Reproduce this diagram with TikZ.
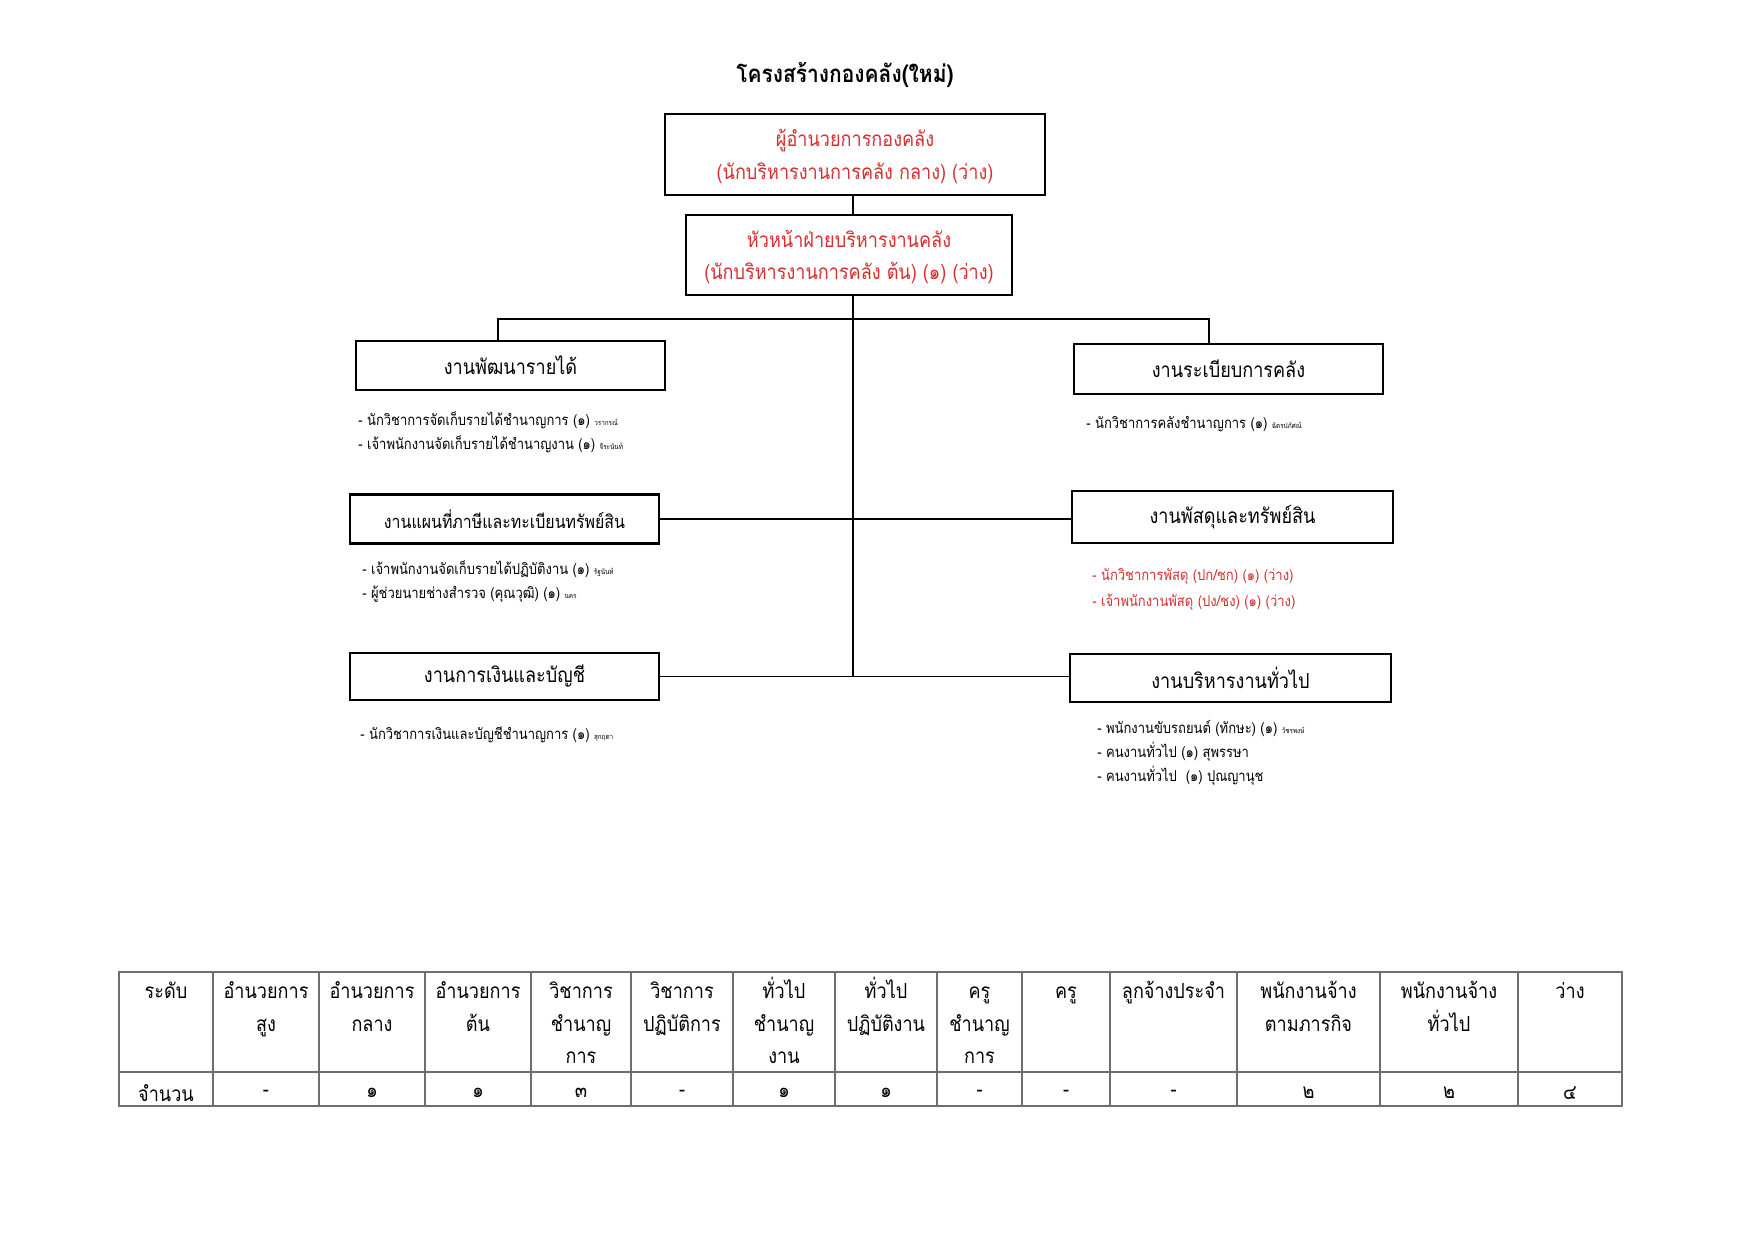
\documentclass[tikz,border=0pt]{standalone}
\usepackage{fontspec}
\setmainfont[Script=Thai,FakeStretch=0.87]{Loma}
\usepackage{xcolor}
\usepackage{tikz}
\usetikzlibrary{positioning,calc}
\definecolor{VacRed}{RGB}{214,46,46}
\definecolor{GridGray}{RGB}{110,110,110}
\newcommand{\nm}[1]{{\fontsize{3.5}{4.5}\selectfont #1}}
\tikzset{
  headbox/.style={draw=black,line width=1pt,minimum width=6.43cm,minimum height=1.37cm,
                  align=center,text=VacRed,font=\fontsize{10}{15.7}\selectfont,inner sep=0pt,
                  text depth=0pt},
  unitbox/.style={draw=black,line width=1pt,minimum width=5.23cm,minimum height=0.83cm,
                  font=\fontsize{10}{14}\selectfont,inner sep=0pt},
  staff/.style={anchor=west,font=\fontsize{7.2}{9}\selectfont,inner sep=0pt},
  link/.style={line width=0.8pt,black},
  cellhead/.style={anchor=north,align=center,font=\fontsize{10}{15.7}\selectfont,inner sep=0pt},
  cellnum/.style={font=\fontsize{10}{14}\selectfont,inner sep=0pt},
}

\begin{document}
\begin{tikzpicture}[x=0.016923cm,y=-0.016923cm]
  \useasboundingbox (0,0) rectangle (1755,1241);

  \node[font=\bfseries\fontsize{11.6}{15}\selectfont] (title) at (845,75) {โครงสร้างกองคลัง(ใหม่)};

  \node[headbox] (dir) at (855,154.5) {ผู้อำนวยการกองคลัง\\(นักบริหารงานการคลัง กลาง) (ว่าง)};
  \node[headbox,minimum width=5.52cm,minimum height=1.35cm] (head) at (849,255)
       {หัวหน้าฝ่ายบริหารงานคลัง\\(นักบริหารงานการคลัง ต้น) (๑) (ว่าง)};

  % units
  \node[unitbox] (rev) at (510.5,365.5) {งานพัฒนารายได้};
  \node[unitbox,minimum height=0.85cm] (reg) at (1228.5,369) {งานระเบียบการคลัง};
  \node[unitbox,font=\fontsize{8.8}{12}\selectfont] (map) at (504.5,519) {งานแผนที่ภาษีและทะเบียนทรัพย์สิน};
  \node[unitbox,minimum width=5.43cm,minimum height=0.88cm] (sup) at (1232.5,517) {งานพัสดุและทรัพย์สิน};
  \node[unitbox,minimum height=0.8cm] (fin) at (504.5,676.5) {งานการเงินและบัญชี};
  \node[unitbox,minimum width=5.43cm,minimum height=0.81cm] (gen) at (1230.5,678) {งานบริหารงานทั่วไป};

  % staff lists
  \node[staff] (rev1) at (358,420) {- นักวิชาการจัดเก็บรายได้ชำนาญการ (๑) \nm{วรากรณ์}};
  \node[staff] (rev2) at (358,444) {- เจ้าพนักงานจัดเก็บรายได้ชำนาญงาน (๑) \nm{จีระนันท์}};
  \node[staff] (reg1) at (1086,424) {- นักวิชาการคลังชำนาญการ (๑) \nm{ฉัตรปภัศณ์}};
  \node[staff] (map1) at (362,569) {- เจ้าพนักงานจัดเก็บรายได้ปฏิบัติงาน (๑) \nm{รัฐนันท์}};
  \node[staff] (map2) at (362,594) {- ผู้ช่วยนายช่างสำรวจ (คุณวุฒิ) (๑) \nm{นคร}};
  \node[staff,text=VacRed] (sup1) at (1092,576) {- นักวิชาการพัสดุ (ปก/ชก) (๑) (ว่าง)};
  \node[staff,text=VacRed] (sup2) at (1092,602) {- เจ้าพนักงานพัสดุ (ปง/ชง) (๑) (ว่าง)};
  \node[staff] (fin1) at (360,735) {- นักวิชาการเงินและบัญชีชำนาญการ (๑) \nm{สุกฤตา}};
  \node[staff] (gen1) at (1097,729) {- พนักงานขับรถยนต์ (ทักษะ) (๑) \nm{วัชรพงษ์}};
  \node[staff] (gen2) at (1097,752) {- คนงานทั่วไป (๑) สุพรรษา};
  \node[staff] (gen3) at (1097,776) {- คนงานทั่วไป~~(๑) ปุณญานุช};

  % connectors
  \coordinate (bar) at (853,319);
  \coordinate (spine) at (853,677);
  \draw[link] (dir.south -| bar) -- (head.north -| bar);
  \draw[link] (head.south -| spine) -- (spine);
  \draw[link] ($(rev.north west)!0.46!(rev.north east)$) |- (bar)
              -| ($(reg.north west)!0.437!(reg.north east)$);
  \draw[link] (map.east) -- (map.east -| sup.west);
  \draw[link] (fin.east) -- (fin.east -| gen.west);

  % summary table
  \draw[GridGray,line width=0.8pt] (119,972) rectangle (1622,1106);
  \draw[GridGray,line width=0.8pt] (119,1072) -- (1622,1072);
  \foreach \cx in {213,319,425,531,631,733,835,937,1022,1110,1237,1380,1518}
    \draw[GridGray,line width=0.8pt] (\cx,972) -- (\cx,1106);
  \foreach \cx/\lab/\num [count=\i] in {
      166/ระดับ/จำนวน,
      266/{อำนวยการ\\สูง}/-,
      372/{อำนวยการ\\กลาง}/๑,
      478/{อำนวยการ\\ต้น}/๑,
      581/{วิชาการ\\ชำนาญ\\การ}/๓,
      682/{วิชาการ\\ปฏิบัติการ}/-,
      784/{ทั่วไป\\ชำนาญ\\งาน}/๑,
      886/{ทั่วไป\\ปฏิบัติงาน}/๑,
      979.5/{ครู\\ชำนาญ\\การ}/-,
      1066/ครู/-,
      1173.5/ลูกจ้างประจำ/-,
      1308.5/{พนักงานจ้าง\\ตามภารกิจ}/๒,
      1449/{พนักงานจ้าง\\ทั่วไป}/๒,
      1570/ว่าง/๔} {
    \node[cellhead] (h\i) at (\cx,971) {\rule{0pt}{13pt}\lab};
    \node[cellnum] (n\i) at (\cx,1093) {\num};
  }
\end{tikzpicture}
\end{document}
